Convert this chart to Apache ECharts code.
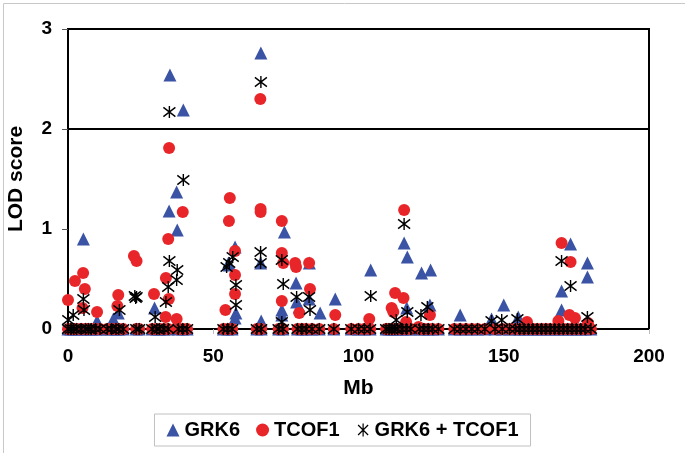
<!DOCTYPE html>
<html>
<head>
<meta charset="utf-8">
<script src="https://cdn.jsdelivr.net/npm/echarts@6/dist/echarts.min.js"></script>
<style>html,body{margin:0;padding:0;background:#fff;}#c{width:685px;height:453px;}</style>
</head>
<body>
<div id="c"></div>
<script>
var seriesNames = ['GRK6', 'TCOF1', 'GRK6 + TCOF1'];
var yTicks = [0, 1, 2, 3];
var xTicks = [0, 50, 100, 150, 200];
var thresholdLOD = [2];

var zeroMb = [0, 1, 2, 3, 4.5, 6, 7, 8, 9.5, 11, 13.5, 15, 16.5, 17.5, 19, 23.5, 24.5, 29, 30.5, 31.5, 33, 34.5, 38, 39.5, 41,
  53.5, 55, 56.5, 65, 66.5, 72.5, 74, 79, 80.5, 82, 84, 86.5, 91.5, 97.5, 100, 102, 104, 109.5, 110.5, 111.5, 112.5, 113.5,
  115, 116.5, 118, 121, 122.5, 124, 125.5, 127.5, 133, 135, 137, 139, 141, 143.5, 147, 149.5, 152, 154, 155.5, 157, 158.5,
  160, 161.5, 163, 164.5, 166, 167.5, 169, 170.5, 172, 173.5, 175, 176.5, 178, 180];

var grk6 = [[5.3,0.90],[10,0.08],[15.6,0.10],[17.3,0.16],[29.8,0.21],[35.1,2.54],[39.7,2.19],[37.4,1.37],[34.8,1.18],
  [37.6,0.99],[55.2,0.66],[57.5,0.82],[55.5,0.64],[57.8,0.16],[57.5,0.11],[66.4,2.76],[66.3,0.66],[66.5,0.08],[74.5,0.97],
  [78.5,0.46],[78.7,0.27],[73.6,0.19],[73.6,0.14],[83.1,0.66],[83,0.30],[79.6,0.22],[86.8,0.16],[92,0.30],[104.2,0.59],
  [115.7,0.86],[116.8,0.72],[116.6,0.21],[121.7,0.56],[124.8,0.59],[124.6,0.24],[135,0.14],[150,0.24],[145.8,0.10],
  [155,0.12],[169.9,0.38],[169.9,0.19],[173,0.85],[178.8,0.66],[178.8,0.52]];

var tcof1 = [[0,0.29],[2.4,0.48],[5.2,0.56],[5.8,0.40],[5.0,0.21],[10,0.17],[17.3,0.34],[17,0.23],[22.7,0.73],[23.6,0.68],
  [29.6,0.35],[34.8,1.81],[34.5,0.90],[33.7,0.51],[34.7,0.30],[33.6,0.12],[37.4,0.10],[39.5,1.17],[54.2,0.19],[55.7,1.31],
  [55.4,1.08],[57.5,0.78],[57.5,0.54],[57.5,0.35],[66.2,2.30],[66.3,1.20],[66.3,1.17],[73.6,1.08],[73.6,0.76],[74.1,0.66],
  [73.6,0.28],[78.2,0.66],[78.5,0.62],[83,0.66],[83.3,0.40],[79.6,0.16],[92,0.14],[103.7,0.10],[112.6,0.36],[115.5,0.31],
  [111.4,0.21],[112,0.17],[115.7,1.19],[116.4,0.07],[120.7,0.02],[124.6,0.14],[158,0.07],[169.9,0.86],[173,0.67],
  [172.6,0.14],[174.5,0.11],[168.8,0.08],[179,0.06]];

var combined = [[0.1,0.09],[1.8,0.14],[5.3,0.30],[5.5,0.19],[17.7,0.19],[23,0.33],[23.6,0.32],[23.3,0.31],[30,0.12],
  [34.9,2.17],[39.7,1.49],[34.9,0.68],[37.6,0.59],[37.4,0.49],[34.5,0.42],[33.7,0.27],[54.6,0.62],[56.7,0.72],[55.5,0.66],
  [57.8,0.44],[57.8,0.24],[66.4,2.47],[66.3,0.77],[66.3,0.66],[73.6,0.69],[74.1,0.45],[73.6,0.07],[78.7,0.32],[83,0.32],
  [83.3,0.19],[104.2,0.33],[115.7,1.05],[116.8,0.17],[113,0.09],[121.5,0.14],[123.7,0.22],[145.8,0.08],[149.3,0.09],
  [154.7,0.10],[169.9,0.68],[173,0.43],[178.8,0.12]];

function withZeros(arr) {
  return zeroMb.map(function (m) { return [m, 0]; }).concat(arr);
}

var starPath = 'path://M0,0L10,10M10,0L0,10M5,-1.5L5,11.5';
var font = 'Liberation Sans, Arial, sans-serif';

var chart = echarts.init(document.getElementById('c'), null, {renderer: 'canvas'});
chart.setOption({
  animation: false,
  backgroundColor: '#ffffff',
  graphic: [{
    type: 'rect', left: 1, top: 1, shape: {width: 682, height: 450},
    style: {fill: 'none', stroke: '#c8c8c8', lineWidth: 1}, silent: true, z: -1
  }],
  grid: {left: 68, right: 36, top: 29, bottom: 124, show: true, borderColor: '#000', borderWidth: 2,
    backgroundColor: 'transparent', containLabel: false, outerBoundsMode: 'none'},
  legend: {
    bottom: 7, left: 'center',
    data: [
      {name: seriesNames[0], icon: 'triangle'},
      {name: seriesNames[1], icon: 'circle'},
      {name: seriesNames[2], icon: starPath, itemStyle: {color: 'none', borderColor: '#000', borderWidth: 1.2}}
    ],
    itemWidth: 13, itemHeight: 13, itemGap: 16,
    padding: [6, 12, 6, 12],
    borderColor: '#c0c0c0', borderWidth: 1,
    textStyle: {fontFamily: font, fontSize: 20, fontWeight: 'bold', color: '#000'}
  },
  xAxis: {
    type: 'value', min: 0, max: 200, interval: 50,
    name: 'Mb', nameLocation: 'middle', nameGap: 49,
    nameTextStyle: {fontFamily: font, fontSize: 21, fontWeight: 'bold', color: '#000'},
    axisLine: {show: true, lineStyle: {color: '#000', width: 2}},
    axisTick: {show: true, length: 5, lineStyle: {color: '#bbb'}},
    axisLabel: {margin: 18, fontFamily: font, fontSize: 19, fontWeight: 'bold', color: '#000'},
    splitLine: {show: false}
  },
  yAxis: {
    type: 'value', min: 0, max: 3, interval: 1,
    name: 'LOD score', nameLocation: 'middle', nameGap: 41,
    nameTextStyle: {fontFamily: font, fontSize: 21, fontWeight: 'bold', color: '#000'},
    axisLine: {show: true, lineStyle: {color: '#000', width: 2}},
    axisTick: {show: true, length: 6, lineStyle: {color: '#555'}},
    axisLabel: {margin: 16, fontFamily: font, fontSize: 19, fontWeight: 'bold', color: '#000'},
    splitLine: {show: false}
  },
  series: [
    {
      name: seriesNames[0], type: 'scatter', symbol: 'triangle', symbolSize: 13,
      itemStyle: {color: '#3a53a4', opacity: 1}, data: withZeros(grk6), z: 2,
      markLine: {
        silent: true, symbol: 'none', label: {show: false},
        lineStyle: {color: '#000', width: 2, type: 'solid'},
        data: thresholdLOD.map(function (v) { return {yAxis: v}; })
      }
    },
    {
      name: seriesNames[1], type: 'scatter', symbol: 'circle', symbolSize: 12,
      itemStyle: {color: '#e8262a', opacity: 1}, data: withZeros(tcof1), z: 3
    },
    {
      name: seriesNames[2], type: 'scatter', symbol: starPath, symbolSize: 12,
      itemStyle: {color: 'none', borderColor: '#000', borderWidth: 1.4, opacity: 1}, data: withZeros(combined), z: 4
    }
  ]
});
</script>
</body>
</html>
